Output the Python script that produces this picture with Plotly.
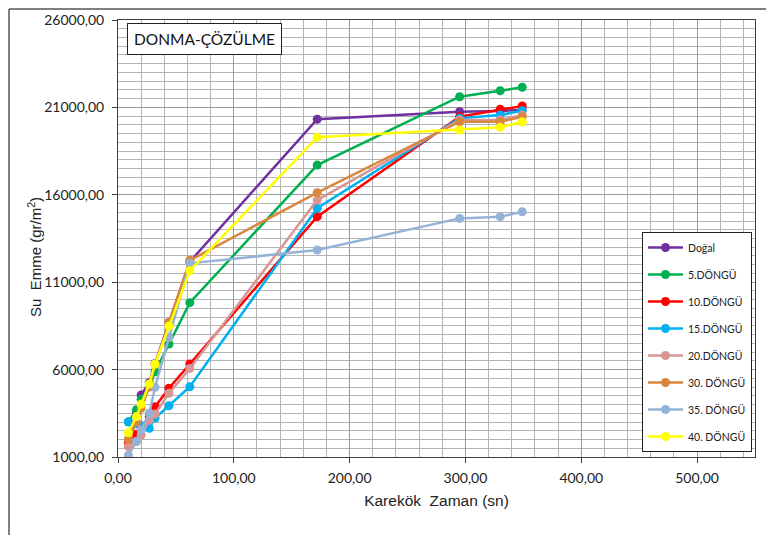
import plotly.graph_objects as go

# ---- data ----
karekok_zaman = [9, 16, 20, 27, 32, 44, 62, 172, 295, 330, 349]

series_names = ["Doğal", "5.DÖNGÜ", "10.DÖNGÜ", "15.DÖNGÜ",
                "20.DÖNGÜ", "30. DÖNGÜ", "35. DÖNGÜ", "40. DÖNGÜ"]

dogal    = [1970, 3500, 4550, 5250, 6350, 8700, 12170, 20320, 20750, 20800, 20850]
dongu5   = [3000, 3700, 4300, 5020, 5880, 7460, 9830, 17700, 21610, 21950, 22150]
dongu10  = [1780, 2300, 2700, 3300, 3880, 4930, 6320, 14750, 20470, 20890, 21080]
dongu15  = [3020, 2900, 2800, 2640, 3230, 3930, 5020, 15230, 20380, 20560, 20810]
dongu20  = [1600, 1880, 2260, 3100, 3460, 4640, 6070, 15700, 20280, 20280, 20560]
dongu30  = [2000, 3000, 3800, 5000, 6300, 8700, 12250, 16120, 20180, 20180, 20470]
dongu35  = [1100, 1900, 2550, 3500, 4990, 7850, 12080, 12840, 14650, 14750, 15030]
dongu40  = [2390, 3310, 4020, 5180, 6320, 8490, 11660, 19290, 19710, 19860, 20180]

series_values = [dogal, dongu5, dongu10, dongu15, dongu20, dongu30, dongu35, dongu40]
series_colors = ["#7030A0", "#00B050", "#FF0000", "#00B0F0",
                 "#D99694", "#D9863F", "#95B3D7", "#FFFF00"]

x_range = [0, 550]
y_range = [1000, 26000]

fig = go.Figure()
for i, (name, vals, col) in enumerate(zip(series_names, series_values, series_colors)):
    fig.add_trace(go.Scatter(
        x=karekok_zaman, y=vals, name=name, mode="lines+markers",
        line=dict(color=col, width=2.5),
        marker=dict(color=col, size=9, symbol="circle"),
        legendgroup=f"g{i}",
    ))

grid_col = "#b4b4b4"
fig.update_xaxes(
    range=x_range, dtick=100, tick0=0, tickformat=".2f",
    showgrid=True, gridcolor="#9a9a9a", gridwidth=1,
    minor=dict(dtick=20, showgrid=True, gridcolor=grid_col, gridwidth=1),
    ticks="outside", ticklen=5, tickcolor="#404040",
    showline=True, linecolor="#404040", linewidth=1, mirror=True,
    zeroline=False, ticklabelstandoff=3, automargin=False,
    tickfont=dict(family="Lato", size=14, color="#222"),
    title=dict(text="Karekök  Zaman (sn)", font=dict(family="Liberation Sans", size=15.5, color="#222"),
               standoff=10),
)
fig.update_yaxes(
    range=y_range, dtick=5000, tick0=1000, tickformat=".2f",
    showgrid=True, gridcolor="#9a9a9a", gridwidth=1,
    minor=dict(dtick=500, showgrid=True, gridcolor=grid_col, gridwidth=1),
    ticks="outside", ticklen=5, tickcolor="#404040",
    showline=True, linecolor="#404040", linewidth=1, mirror=True,
    zeroline=False, ticklabelstandoff=5, automargin=False,
    tickfont=dict(family="Lato", size=14, color="#222"),
)

# page body has an 8px margin: figure is placed at (8, 8) in the window
fig.update_layout(
    width=766, height=527,
    margin=dict(l=110, r=19, t=12, b=78),
    paper_bgcolor="white", plot_bgcolor="white",
    separators=",.",
    showlegend=True,
    legend=dict(
        x=0.8226, y=(457 - 232) / 437, xanchor="left", yanchor="top",
        bgcolor="white", bordercolor="#222", borderwidth=1,
        font=dict(family="Lato", size=10.5, color="#222"),
        tracegroupgap=8, itemwidth=35,
    ),
    annotations=[
        dict(
            text="DONMA-ÇÖZÜLME", xref="paper", yref="paper",
            x=(127 - 118) / 637, y=(457 - 23) / 437, xanchor="left", yanchor="top",
            showarrow=False, font=dict(family="Lato", size=15.5, color="#111"),
            bordercolor="#222", borderwidth=1, borderpad=6, bgcolor="white",
        ),
        dict(
            text="Su  Emme (gr/m<sup>2</sup>)", xref="paper", yref="paper",
            x=(35 - 118) / 637, y=(457 - 257) / 437, xanchor="center", yanchor="middle",
            textangle=-90, showarrow=False,
            font=dict(family="Liberation Sans", size=15, color="#222"),
        ),
    ],
    shapes=[
        dict(type="line", xref="paper", yref="paper",
             x0=(9 - 118) / 637, x1=(774 - 118) / 637,
             y0=(457 - 9) / 437, y1=(457 - 9) / 437,
             line=dict(color="#555", width=1.5)),
        dict(type="line", xref="paper", yref="paper",
             x0=(9 - 118) / 637, x1=(9 - 118) / 637,
             y0=(457 - 9) / 437, y1=(457 - 540) / 437,
             line=dict(color="#555", width=1.5)),
    ],
)

fig.write_html("out.html")
